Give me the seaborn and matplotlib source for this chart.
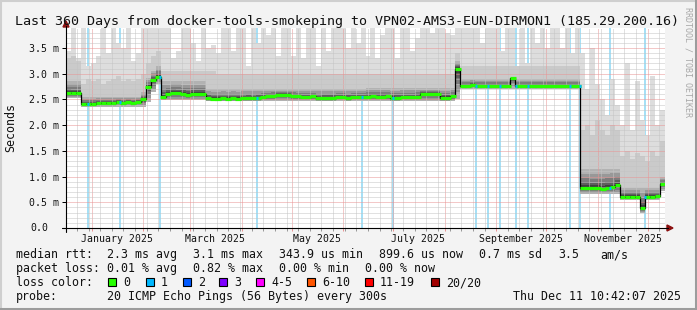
import numpy as np
import matplotlib
matplotlib.use("Agg")
import matplotlib.pyplot as plt
import matplotlib.dates as mdates
import matplotlib.transforms as mtransforms
from matplotlib.ticker import MultipleLocator, FuncFormatter
from matplotlib.patches import Rectangle, Polygon
from matplotlib.lines import Line2D
import seaborn as sns
from datetime import datetime, timedelta

# ---------------- data ----------------
start = datetime(2024, 12, 16, 10, 42, 7)
step_days = 3

median_ms = [2.63, 2.62, 2.62,
             2.42, 2.42, 2.42, 2.43, 2.43, 2.43, 2.44, 2.45, 2.44, 2.45, 2.44, 2.45,
             2.50, 2.75, 2.88, 2.94,
             2.55, 2.60, 2.63, 2.62, 2.60, 2.59, 2.60, 2.61, 2.61, 2.53,
             2.51, 2.51, 2.52, 2.51, 2.52, 2.51, 2.52, 2.53, 2.52, 2.53, 2.54,
             2.56, 2.57, 2.59, 2.58, 2.58, 2.57, 2.56, 2.55, 2.55, 2.56,
             2.52, 2.53, 2.53, 2.53, 2.54, 2.54, 2.53, 2.54, 2.54, 2.55,
             2.55, 2.56, 2.55, 2.55, 2.56, 2.53, 2.52, 2.54, 2.54, 2.54,
             2.55, 2.60, 2.60, 2.61, 2.60, 2.53, 2.53, 2.56, 3.10, 2.77,
             2.77, 2.78, 2.77, 2.77, 2.77, 2.76, 2.77, 2.77, 2.77, 2.92,
             2.77, 2.77, 2.76, 2.77, 2.77, 2.77, 2.77, 2.76, 2.77, 2.77,
             2.77, 2.77, 2.76,
             0.78, 0.78, 0.77, 0.77, 0.76, 0.78, 0.79, 0.83,
             0.61, 0.61, 0.61, 0.61, 0.38, 0.61, 0.61, 0.62, 0.85]

smoke_max = [3.45, 3.9, 3.3,
             3.9, 3.15, 3.2, 3.35, 3.9, 3.4, 3.9, 3.6, 3.5, 3.9, 3.25, 3.4, 3.9,
             3.9, 3.9, 3.9,
             3.9, 3.9, 3.3, 3.45, 3.9, 3.9, 3.6, 3.25, 3.9, 3.5, 3.55,
             3.4, 3.9, 3.9, 3.45, 3.9, 3.9, 3.15, 3.9, 3.6, 3.9,
             3.75, 3.9, 3.35, 3.9, 3.9, 3.35, 3.9, 3.3, 3.9, 3.9,
             3.15, 3.9, 3.45, 3.9, 3.9, 3.9, 3.5, 3.9, 3.6, 3.9,
             3.35, 3.9, 3.3, 3.75, 3.9, 3.9, 3.3, 3.9, 3.9, 3.45,
             3.7, 3.9, 3.9, 3.8, 3.9, 3.9, 3.8, 3.75, 3.9,
             3.9, 3.9, 3.9, 3.9, 3.6, 3.9, 3.9, 3.9, 3.45, 3.9, 3.9,
             3.1, 3.9, 3.2, 3.9, 3.6, 3.9, 3.5, 3.9, 3.9, 3.5, 3.9, 3.4, 3.9,
             3.4, 2.7, 3.5, 2.8, 2.5, 2.2, 2.9, 2.4,
             2.0, 3.2, 1.9, 2.85, 2.1, 1.8, 2.95, 2.0, 2.3]

smoke_p90 = ([3.3, 3.35, 3.25]
             + [2.8, 2.9, 2.85, 2.9, 2.8, 2.85, 2.9, 2.95, 2.85, 2.9, 2.85, 2.9, 3.0]
             + [3.2, 3.35, 3.45]
             + [3.05] * 11
             + [3.0] * 48
             + [3.4]
             + [3.15] * 24
             + [1.9, 2.0, 1.8, 2.1, 1.9, 1.8, 2.0, 1.9]
             + [1.4, 1.5, 1.35, 1.45, 1.4, 1.3, 1.5, 1.4, 1.7])

smoke_p75 = ([2.85] * 3 + [2.55] * 12 + [2.65]
             + [2.92, 3.05, 3.15]
             + [2.85] * 9
             + [2.7] * 32
             + [2.72] * 18
             + [3.25]
             + [2.9] * 24
             + [1.15] * 8
             + [0.78] * 8 + [1.0])

smoke_min = ([2.52] * 3 + [2.36] * 13
             + [2.45, 2.65, 2.8]
             + [2.48] * 9
             + [2.46] * 50
             + [2.5]
             + [2.7] * 24
             + [0.66] * 8
             + [0.55] * 4 + [0.3] + [0.55] * 3 + [0.72])

# days (since start) with 1/20 packet loss
loss_days = [13.2, 32.5, 56.5, 114.8, 177.9, 196.5, 246.4, 253.6, 260.8,
             270.4, 277.6, 302.9, 308.9, 326.9, 348.0]

loss_labels = ["0", "1", "2", "3", "4-5", "6-10", "11-19", "20/20"]
loss_colors = ["#26ff00", "#00b8ff", "#0059ff", "#7e00ff", "#ff00ff",
               "#ff5500", "#ff0000", "#a10000"]

month_label_dates = ["2025-01-16", "2025-03-16", "2025-05-16", "2025-07-16",
                     "2025-09-16", "2025-11-16"]
month_labels = ["January 2025", "March 2025", "May 2025", "July 2025",
                "September 2025", "November 2025"]

title = "Last 360 Days from docker-tools-smokeping to VPN02-AMS3-EUN-DIRMON1 (185.29.200.16)"
stats_rtt = [(16, "median rtt:"), (107, "2.3 ms avg"), (193, "3.1 ms max"),
             (279, "343.9 us min"), (379, "899.6 us now"), (479, "0.7 ms sd"),
             (558, "3.5"), (600, "am/s")]
stats_loss = [(16, "packet loss:"), (107, "0.01 % avg"), (193, "0.82 % max"),
              (279, "0.00 % min"), (365, "0.00 % now")]
probe_text = "20 ICMP Echo Pings (56 Bytes) every 300s"
stamp_text = "Thu Dec 11 10:42:07 2025"

# ---------------- style ----------------
sns.set_theme(style="white")
MONO = "DejaVu Sans Mono"
plt.rcParams["font.family"] = [MONO, "DejaVu Sans"]
TXT = "#111111"

W, H = 697, 310
fig = plt.figure(figsize=(W / 100, H / 100), dpi=100, facecolor="#f3f3f3")


def fx(px):
    return px / W


def fy(py):
    return 1 - py / H


ax = fig.add_axes([fx(66), fy(228), 599 / W, 200 / H])
ax.set_facecolor("white")

n = len(median_ms)
edges = mdates.date2num([start + timedelta(days=step_days * k) for k in range(n + 1)])
med = np.array(median_ms)
smax = np.array(smoke_max)
p90 = np.array(smoke_p90)
p75 = np.array(smoke_p75)
smin = np.array(smoke_min)


def ext(a):
    return np.r_[a, a[-1]]


ymax = 3.889
# loss background bars
loss_x = mdates.date2num([start + timedelta(days=d) for d in loss_days])
ax.bar(loss_x, ymax, width=1.3, bottom=0, color="#a6e0f6", linewidth=0,
       align="center", zorder=0.6)

# smoke: outer light band, then darker shades closer to the median
ax.fill_between(edges, ext(smin), ext(smax), step="post", color="#dddddd", lw=0, zorder=1.0)
ax.fill_between(edges, ext(smin), ext(p90), step="post", color="#cacaca", lw=0, zorder=1.05)
shade_frac = [1.0, 0.75, 0.5, 0.3, 0.15]
shade_col = ["#b2b2b2", "#989898", "#7c7c7c", "#5e5e5e", "#404040"]
for k, (fr, col) in enumerate(zip(shade_frac, shade_col)):
    hi = med + (p75 - med) * fr
    lo = med - (med - smin) * fr
    ax.fill_between(edges, ext(lo), ext(hi), step="post", color=col, lw=0, zorder=1.1 + 0.02 * k)

# median: thin black step line + loss-coloured thick segments
sns.lineplot(x=edges, y=ext(med), drawstyle="steps-post", color="black",
             linewidth=0.9, ax=ax, zorder=3, estimator=None, sort=False)
ov = 0.25
ax.hlines(med, edges[:-1] - ov, edges[1:] + ov, color=loss_colors[0], linewidth=2.3, zorder=3.5)
for d, xd in zip(loss_days, loss_x):
    b = int(d // step_days)
    ax.hlines(med[b], xd - 0.8, xd + 0.8, color=loss_colors[1], linewidth=2.3, zorder=3.6)

# axes / grid
ax.set_xlim(edges[0], mdates.date2num(start + timedelta(days=360)))
ax.set_ylim(0, ymax)
ax.set_xlabel("")
ax.set_ylabel("")
ax.yaxis.set_major_locator(MultipleLocator(0.5))
ax.yaxis.set_minor_locator(MultipleLocator(0.1))
ax.xaxis.set_major_locator(mdates.MonthLocator())
ax.xaxis.set_minor_locator(mdates.WeekdayLocator(byweekday=mdates.MO))
ax.set_axisbelow(False)
ax.grid(which="minor", color="#c4c4c4", linestyle=(0, (1, 1)), linewidth=0.72)
ax.grid(which="major", color="#e99393", linestyle=(0, (1, 1)), linewidth=0.72)
ax.yaxis.set_major_formatter(FuncFormatter(lambda v, p: "" if abs(v) < 1e-9 else f"{v:.1f} m"))
ax.xaxis.set_major_formatter(FuncFormatter(lambda v, p: ""))
ax.tick_params(axis="y", which="major", length=3, width=0.72, color="black", pad=2.2,
               labelsize=7.1, labelcolor=TXT, direction="out", left=True)
ax.tick_params(axis="y", which="minor", length=0)
ax.tick_params(axis="x", which="major", length=2.5, width=0.72, color="#e99393", direction="out", bottom=True)
ax.tick_params(axis="x", which="minor", length=2, width=0.72, color="#999999", direction="out", bottom=True)
for lab in ax.get_yticklabels():
    lab.set_fontfamily(MONO)
ax.annotate("0.0", xy=(0, 0), xycoords=("axes fraction", "data"), xytext=(-18, 0),
            textcoords="offset pixels", ha="right", va="center", fontsize=7.1,
            family=MONO, color=TXT)
for sname in ["top", "right", "left", "bottom"]:
    ax.spines[sname].set_visible(False)

lab_tr = mtransforms.blended_transform_factory(ax.transData, fig.transFigure)
for dstr, lab in zip(month_label_dates, month_labels):
    xd = mdates.date2num(datetime.strptime(dstr, "%Y-%m-%d"))
    ax.text(xd, fy(242), lab, transform=lab_tr, ha="center", va="baseline",
            fontsize=7.1, family=MONO, color=TXT)

# axis lines with arrows (figure pixel coords)
fig.add_artist(Line2D([fx(62), fx(668)], [fy(228), fy(228)], color="black", lw=0.8))
fig.add_artist(Line2D([fx(66), fx(66)], [fy(232), fy(26)], color="black", lw=0.8))
fig.add_artist(Polygon([[fx(63), fy(27)], [fx(69), fy(27)], [fx(66), fy(21)]],
                       closed=True, color="#8b1010", transform=fig.transFigure))
fig.add_artist(Polygon([[fx(667), fy(225)], [fx(667), fy(231)], [fx(673), fy(228)]],
                       closed=True, color="#8b1010", transform=fig.transFigure))

# texts
fig.text(fx(15), fy(24.5), title, fontsize=9.6, family=MONO, ha="left", va="baseline", color=TXT)
fig.text(fx(11), fy(128), "Seconds", rotation=90, fontsize=8.4, family=MONO,
         ha="center", va="center", color=TXT)
fig.text(fx(688), fy(62), "RRDTOOL / TOBI OETIKER", rotation=270, fontsize=6.0,
         family=MONO, ha="center", va="center", color="#a8a8a8")

LS = 8.4
for xp, s in stats_rtt:
    fig.text(fx(xp), fy(258), s, fontsize=LS, family=MONO, ha="left", va="baseline", color=TXT)
for xp, s in stats_loss:
    fig.text(fx(xp), fy(272), s, fontsize=LS, family=MONO, ha="left", va="baseline", color=TXT)
fig.text(fx(16), fy(286), "loss color:", fontsize=LS, family=MONO, ha="left", va="baseline", color=TXT)
box_x = [108, 146, 183, 219, 256, 307, 365, 431]
for bx, lab, col in zip(box_x, loss_labels, loss_colors):
    fig.add_artist(Rectangle((fx(bx), fy(286)), 8 / W, 8 / H, facecolor=col,
                             edgecolor="black", lw=0.8, transform=fig.transFigure))
    fig.text(fx(bx + 15), fy(286), lab, fontsize=LS, family=MONO, ha="left", va="baseline", color=TXT)
fig.text(fx(16), fy(300), "probe:", fontsize=LS, family=MONO, ha="left", va="baseline", color=TXT)
fig.text(fx(107), fy(300), probe_text, fontsize=LS, family=MONO, ha="left", va="baseline", color=TXT)
fig.text(fx(513), fy(300), stamp_text, fontsize=LS, family=MONO, ha="left", va="baseline", color=TXT)

# outer frame
fig.add_artist(Line2D([0, 1], [fy(0.5), fy(0.5)], color="#cfcfcf", lw=1.5))
fig.add_artist(Line2D([fx(0.5), fx(0.5)], [0, 1], color="#cfcfcf", lw=1.5))
fig.add_artist(Line2D([0, 1], [fy(309), fy(309)], color="#9c9c9c", lw=2.2))
fig.add_artist(Line2D([fx(696), fx(696)], [0, 1], color="#9c9c9c", lw=2.2))

fig.savefig("out.png", dpi=100, facecolor=fig.get_facecolor())
